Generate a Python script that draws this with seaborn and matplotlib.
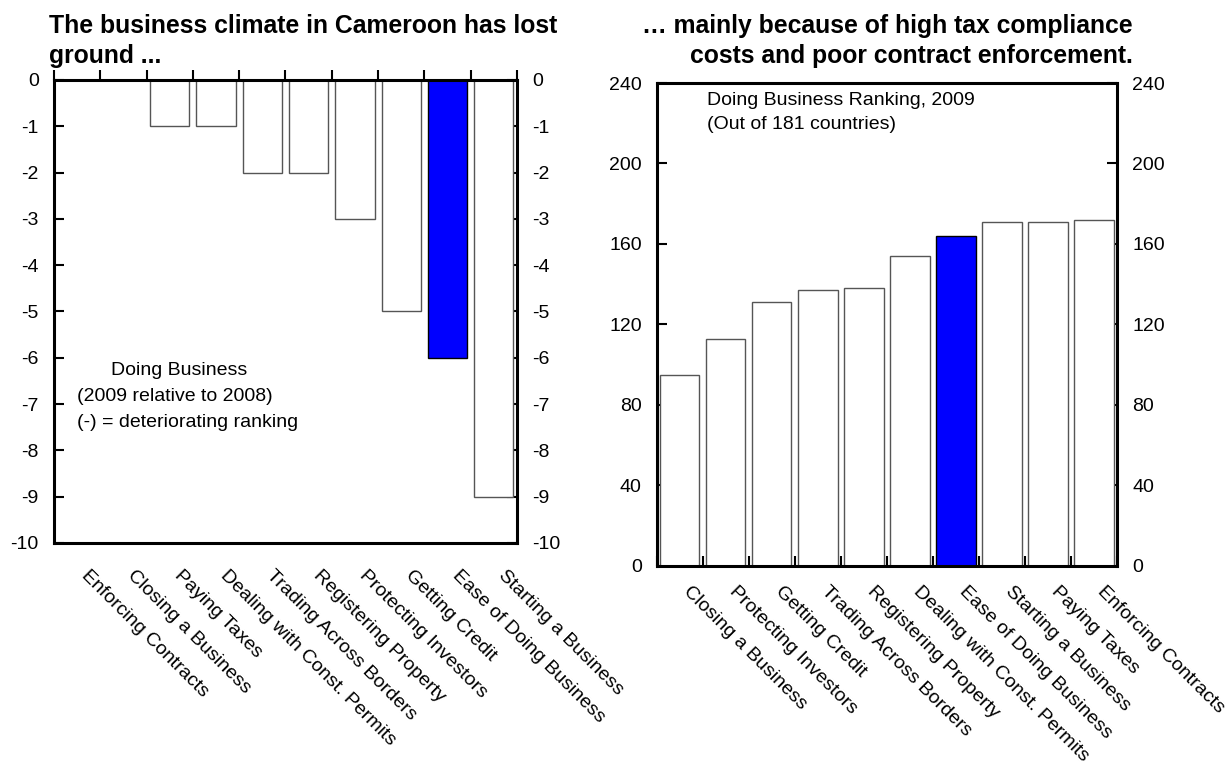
import matplotlib
matplotlib.use("Agg")
import matplotlib.pyplot as plt
import matplotlib.transforms as mtransforms
import seaborn as sns
import numpy as np
import pandas as pd

# ---- data ----
left_categories = ["Enforcing Contracts", "Closing a Business", "Paying Taxes",
                   "Dealing with Const. Permits", "Trading Across Borders",
                   "Registering Property", "Protecting Investors", "Getting Credit",
                   "Ease of Doing Business", "Starting a Business"]
left_values = [0, 0, -1, -1, -2, -2, -3, -5, -6, -9]

right_categories = ["Closing a Business", "Protecting Investors", "Getting Credit",
                    "Trading Across Borders", "Registering Property",
                    "Dealing with Const. Permits", "Ease of Doing Business",
                    "Starting a Business", "Paying Taxes", "Enforcing Contracts"]
right_values = [95, 113, 131, 137, 138, 154, 164, 171, 171, 172]

highlight = "Ease of Doing Business"

left_yticks = list(range(-10, 1))
right_yticks = list(range(0, 241, 40))

left_title = "The business climate in Cameroon has lost\nground ..."
right_title = "\u2026 mainly because of high tax compliance\ncosts and poor contract enforcement."

# ---- style ----
sns.set_style("white")
plt.rcParams["font.family"] = ["Liberation Sans", "DejaVu Sans"]
plt.rcParams["text.color"] = "black"
plt.rcParams["xtick.color"] = "black"
plt.rcParams["ytick.color"] = "black"
plt.rcParams["axes.labelcolor"] = "black"

BLUE = "#0000FF"
FS = 14

fig = plt.figure(figsize=(12.3, 7.75), dpi=100)
axL = fig.add_axes([0.0439, 0.2994, 0.3764, 0.5974])
axR = fig.add_axes([0.5341, 0.2697, 0.3740, 0.6232])


def draw(ax, cats, vals, ylim, yticks):
    df = pd.DataFrame({"cat": cats, "val": vals})
    pal = {c: (BLUE if c == highlight else "white") for c in cats}
    sns.barplot(data=df, x="cat", y="val", hue="cat", palette=pal, legend=False,
                order=cats, hue_order=cats, saturation=1, width=0.85,
                edgecolor="#555555", linewidth=1.0, ax=ax)
    for p in ax.patches:
        if p.get_facecolor()[:3] == (0.0, 0.0, 1.0):
            p.set_edgecolor("black")
    ax.set_xlim(-0.5, len(cats) - 0.5)
    ax.set_ylim(*ylim)
    ax.set_yticks(yticks)
    ax.set_yticklabels([str(t) for t in yticks])
    ax.set_xlabel("")
    ax.set_ylabel("")
    for s in ax.spines.values():
        s.set_visible(True)
        s.set_color("black")
        s.set_linewidth(2.2)
    ax.tick_params(axis="y", which="major", direction="in", length=7, width=1.5,
                   left=True, right=True, labelleft=True, labelright=True,
                   labelsize=FS, pad=11, colors="black")
    ax.set_xticks(range(len(cats)))
    ax.set_xticklabels(cats, rotation=-45, ha="left", va="top",
                       rotation_mode="anchor", fontsize=FS, color="black")
    ax.set_xticks(np.arange(-0.5, len(cats), 1.0), minor=True)
    ax.grid(False)


def shift_xlabels(ax, dx_px, dy_px):
    off = mtransforms.ScaledTranslation(dx_px / 100.0, dy_px / 100.0, fig.dpi_scale_trans)
    for lab in ax.get_xticklabels():
        lab.set_transform(lab.get_transform() + off)


draw(axL, left_categories, left_values, (-10, 0), left_yticks)
axL.tick_params(axis="x", which="major", length=0, pad=17, bottom=True, top=False)
axL.tick_params(axis="x", which="minor", direction="out", length=7, width=1.5,
                top=True, bottom=False, labelbottom=False)
shift_xlabels(axL, 13, 0)

draw(axR, right_categories, right_values, (0, 240), right_yticks)
axR.tick_params(axis="x", which="major", length=0, pad=12, bottom=True, top=False)
axR.tick_params(axis="x", which="minor", direction="in", length=7, width=1.5,
                top=False, bottom=True, labelbottom=False)
shift_xlabels(axR, 12, 0)

# annotations
axL.text(2.21, -6.28, "Doing Business", ha="center", va="center", fontsize=FS)
axL.text(0.0, -6.83, "(2009 relative to 2008)", ha="left", va="center", fontsize=FS)
axL.text(0.0, -7.40, "(-) = deteriorating ranking", ha="left", va="center", fontsize=FS)

axR.text(0.59, 231.5, "Doing Business Ranking, 2009", ha="left", va="center", fontsize=FS)
axR.text(0.59, 219.6, "(Out of 181 countries)", ha="left", va="center", fontsize=FS)

# titles
fig.text(49 / 1230, 1 - 41 / 775, left_title, ha="left", va="center",
         fontsize=17.8, fontweight="bold", linespacing=1.35)
fig.text(1133 / 1230, 1 - 41 / 775, right_title, ha="right", va="center",
         multialignment="right", fontsize=17.8, fontweight="bold", linespacing=1.35)

fig.savefig("out.png", dpi=100)
